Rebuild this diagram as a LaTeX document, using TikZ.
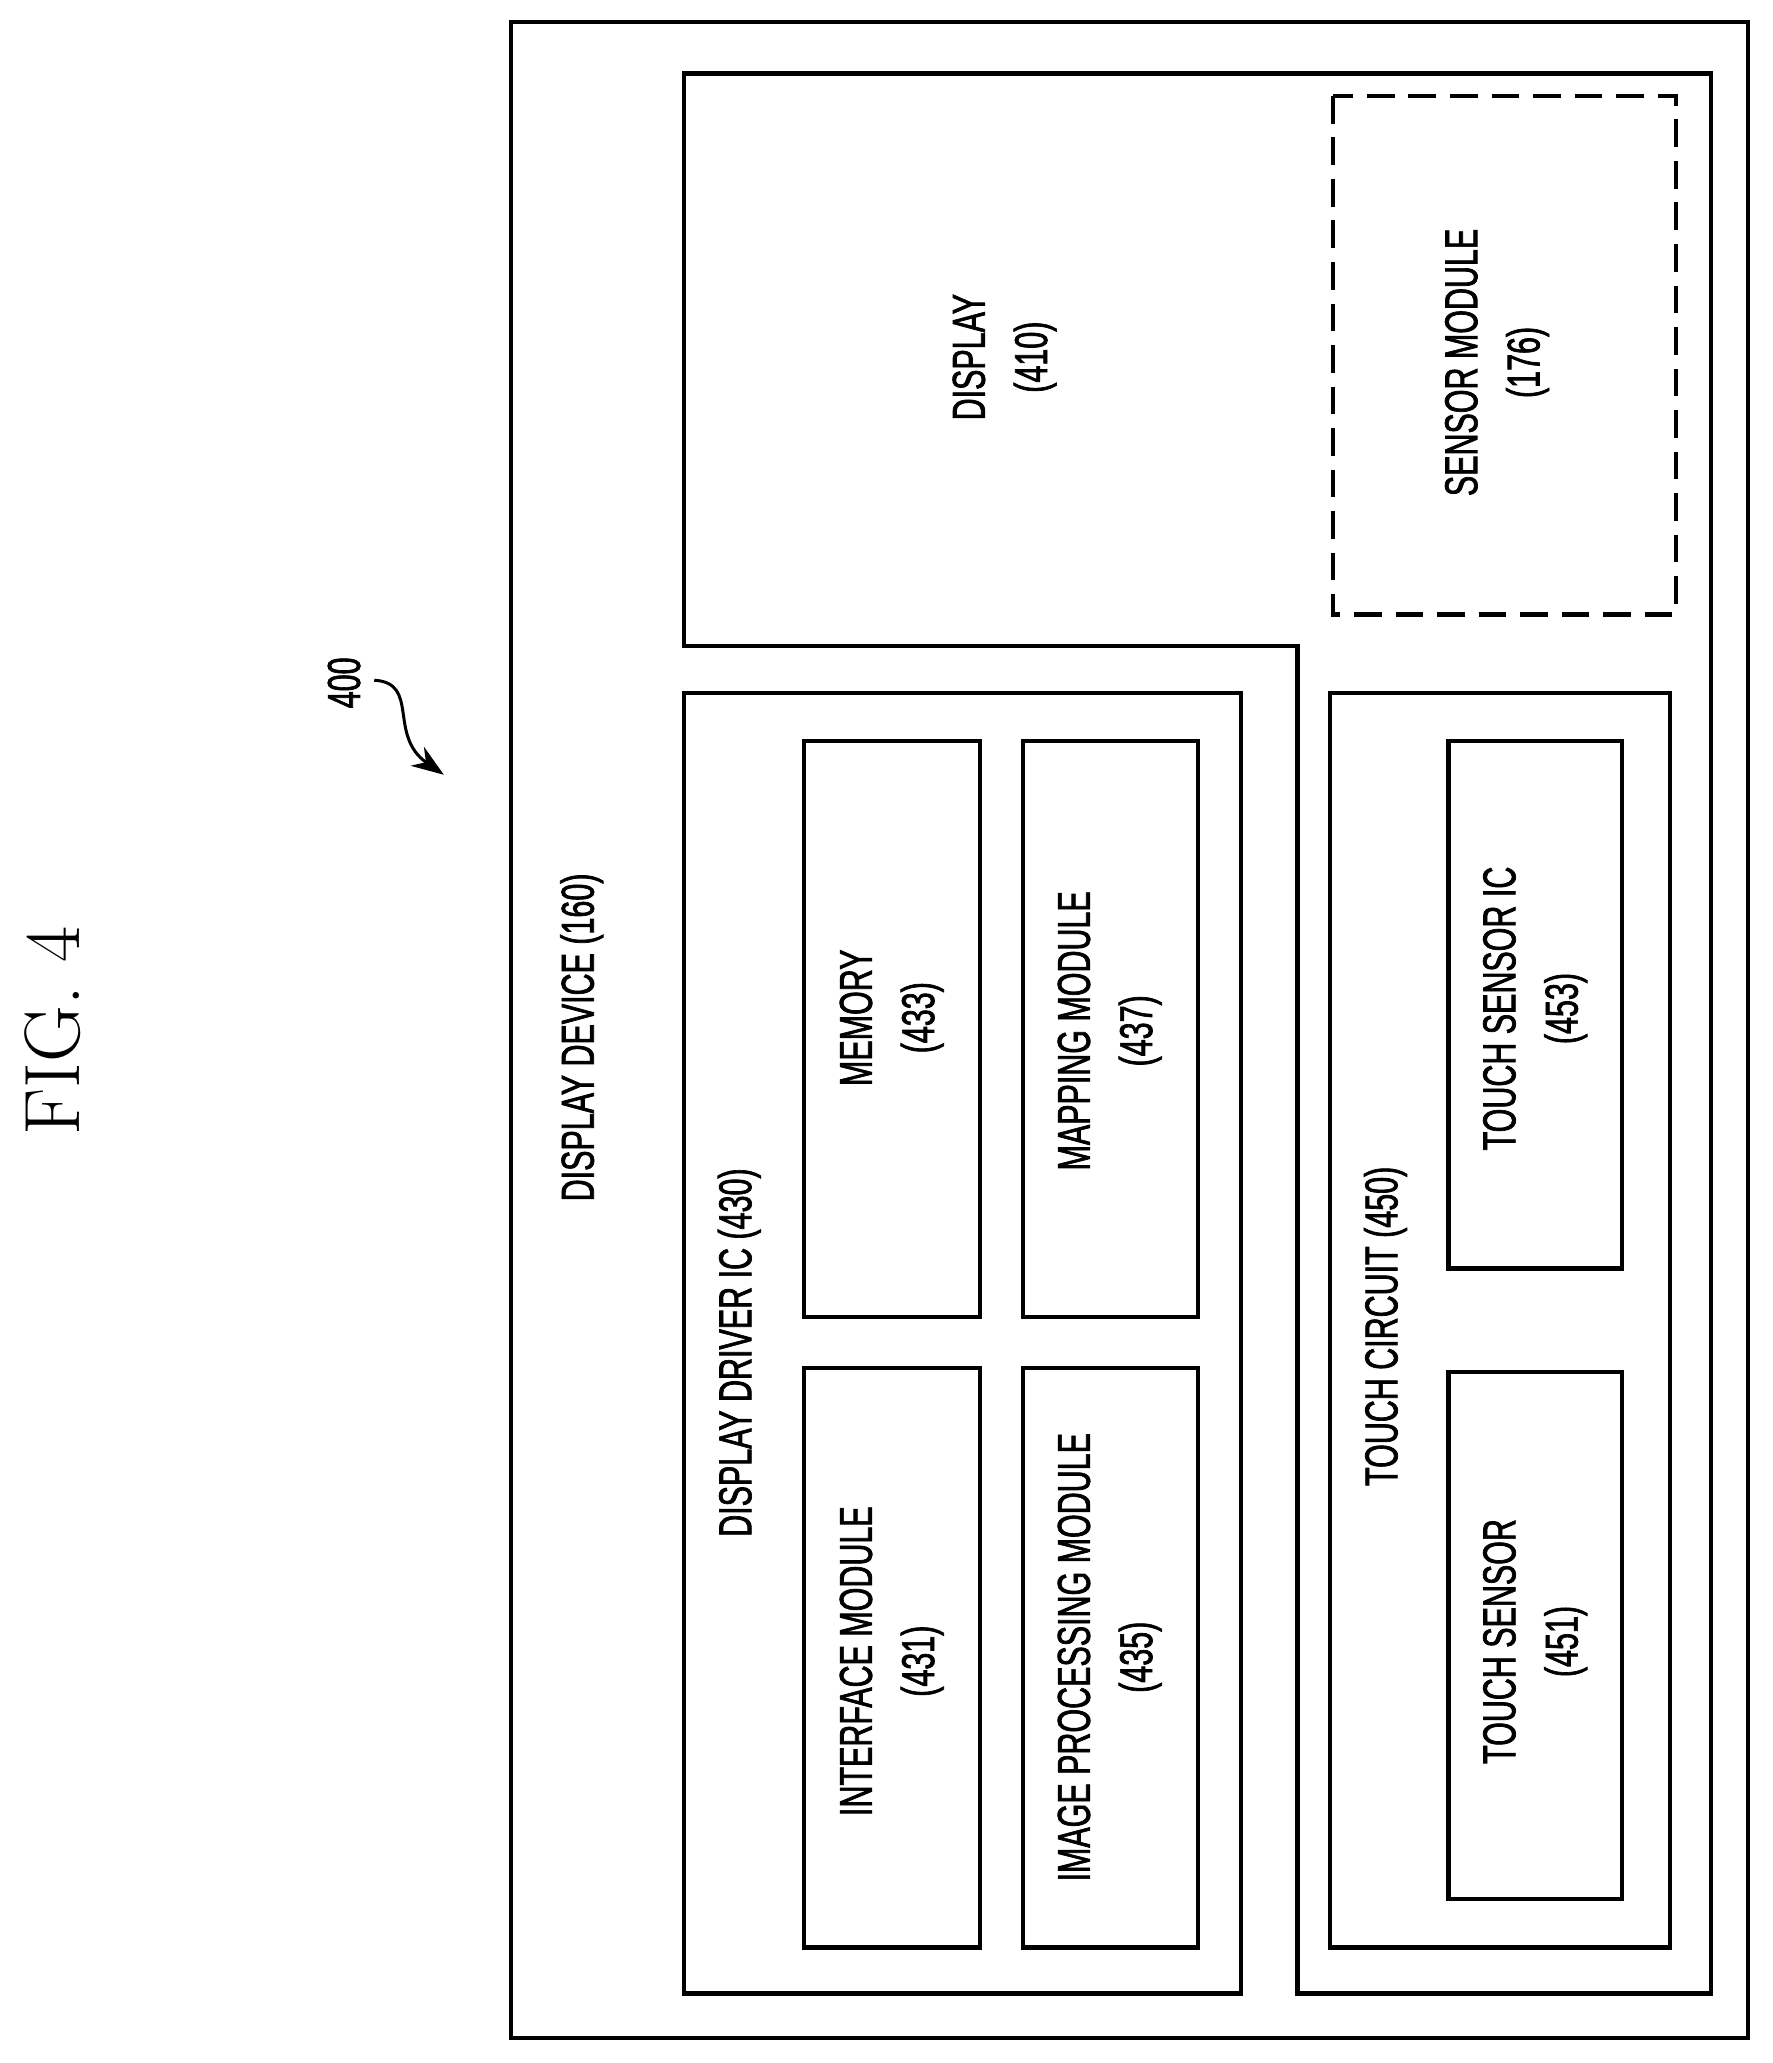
\documentclass[tikz,border=0pt]{standalone}
\usepackage{fontspec}
\newfontfamily\cond[FakeStretch=0.66,FakeBold=1.5]{Liberation Sans}
\usetikzlibrary{decorations.pathmorphing,arrows.meta}
\begin{document}
\begin{tikzpicture}[x=0.02cm,y=-0.02cm,
  box/.style={draw,line width=1.8pt},
  lab/.style={rotate=90,align=center,font=\cond\fontsize{20}{27}\selectfont,inner sep=0}]
\useasboundingbox (0,0) rectangle (1350,1571);
\draw[box] (389,17) rectangle (1331,1552);
\draw[box] (521,56) -- (1303,56) -- (1303,1518) -- (988,1518) -- (988,492) -- (521,492) -- cycle;
\draw[box,dashed,dash pattern=on 12pt off 6pt] (1015,73) rectangle (1276,468);
\draw[box] (521,528) rectangle (945,1518);
\draw[box] (612,564) rectangle (746,1003);
\draw[box] (779,564) rectangle (912,1003);
\draw[box] (612,1042) rectangle (746,1483);
\draw[box] (779,1042) rectangle (912,1483);
\draw[box] (1013,528) rectangle (1272,1483);
\draw[box] (1103,564) rectangle (1235,966);
\draw[box] (1103,1045) rectangle (1235,1446);
\node[lab] (l160) at (443,790) {DISPLAY DEVICE (160)};
\node[lab] (l430) at (563,1030) {DISPLAY DRIVER IC (430)};
\node[lab] (l450) at (1055,1010) {TOUCH CIRCUIT (450)};
\node[lab] (l410) at (765,272) {DISPLAY\\(410)};
\node[lab] (l176) at (1140,276) {SENSOR MODULE\\(176)};
\node[lab] (l433) at (679,775) {MEMORY\\(433)};
\node[lab] (l437) at (845,785) {MAPPING MODULE\\(437)};
\node[lab] (l431) at (679,1265) {INTERFACE MODULE\\(431)};
\node[lab] (l435) at (845,1262) {IMAGE PROCESSING MODULE\\(435)};
\node[lab] (l453) at (1169,768) {TOUCH SENSOR IC\\(453)};
\node[lab] (l451) at (1169,1250) {TOUCH SENSOR\\(451)};
\node[rotate=90,font=\fontsize{34}{34}\selectfont] (fig) at (40,785) {FIG.\ 4};
\node[lab] (n400) at (262,520) {400};
\coordinate (a0) at (285,518);
\coordinate (a1) at (338,590);
\draw[line width=1.3pt,-{Stealth[length=14pt,width=10pt]}] (a0) .. controls (320,520) and (295,560) .. (a1);
\end{tikzpicture}
\end{document}
